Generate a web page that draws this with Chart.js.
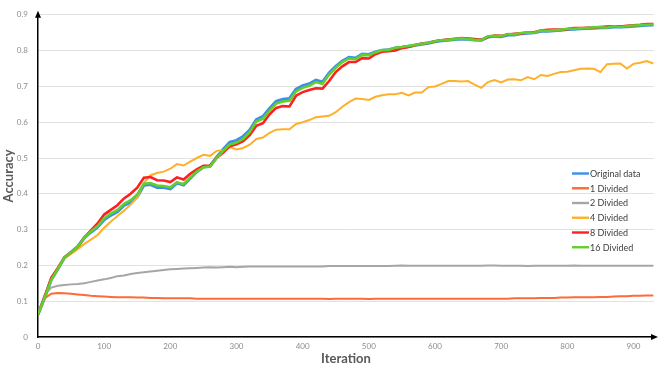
<!DOCTYPE html>
<html>
<head>
<meta charset="utf-8">
<script src="https://cdn.jsdelivr.net/npm/chart.js@4.4.1/dist/chart.umd.min.js"></script>
<style>
  html, body { margin: 0; padding: 0; background: #fff; }
  #wrap { width: 664px; height: 369px; }
</style>
</head>
<body>
<div id="wrap"><canvas id="acc-chart"></canvas></div>
<script>
// Accuracy vs iteration data

const iterations = [
    0, 10, 20, 30, 40, 50, 60, 70, 80, 90,
    100, 110, 120, 130, 140, 150, 160, 170, 180, 190,
    200, 210, 220, 230, 240, 250, 260, 270, 280, 290,
    300, 310, 320, 330, 340, 350, 360, 370, 380, 390,
    400, 410, 420, 430, 440, 450, 460, 470, 480, 490,
    500, 510, 520, 530, 540, 550, 560, 570, 580, 590,
    600, 610, 620, 630, 640, 650, 660, 670, 680, 690,
    700, 710, 720, 730, 740, 750, 760, 770, 780, 790,
    800, 810, 820, 830, 840, 850, 860, 870, 880, 890,
    900, 910, 920, 930
];

const originalData = [
    0.063, 0.110, 0.160, 0.190, 0.222, 0.237, 0.252, 0.277, 0.293, 0.307,
    0.328, 0.340, 0.350, 0.368, 0.377, 0.392, 0.424, 0.426, 0.418, 0.418,
    0.414, 0.430, 0.425, 0.443, 0.462, 0.475, 0.477, 0.502, 0.524, 0.544,
    0.549, 0.560, 0.578, 0.607, 0.616, 0.638, 0.658, 0.664, 0.666, 0.692,
    0.702, 0.707, 0.717, 0.712, 0.737, 0.756, 0.771, 0.781, 0.779, 0.790,
    0.789, 0.796, 0.801, 0.802, 0.807, 0.809, 0.812, 0.815, 0.818, 0.821,
    0.825, 0.828, 0.829, 0.831, 0.833, 0.832, 0.830, 0.829, 0.838, 0.840,
    0.839, 0.844, 0.844, 0.847, 0.849, 0.850, 0.854, 0.854, 0.856, 0.857,
    0.859, 0.860, 0.861, 0.862, 0.863, 0.864, 0.864, 0.866, 0.866, 0.867,
    0.868, 0.870, 0.871, 0.872
];

const divided1 = [
    0.063, 0.108, 0.121, 0.123, 0.122, 0.121, 0.119, 0.117, 0.115, 0.114,
    0.113, 0.112, 0.111, 0.111, 0.111, 0.110, 0.110, 0.109, 0.109, 0.108,
    0.108, 0.108, 0.108, 0.108, 0.107, 0.107, 0.107, 0.107, 0.107, 0.107,
    0.107, 0.107, 0.107, 0.107, 0.107, 0.107, 0.107, 0.107, 0.107, 0.107,
    0.107, 0.107, 0.107, 0.107, 0.106, 0.107, 0.107, 0.107, 0.107, 0.107,
    0.106, 0.107, 0.107, 0.107, 0.107, 0.107, 0.107, 0.107, 0.107, 0.107,
    0.107, 0.107, 0.107, 0.107, 0.107, 0.107, 0.107, 0.107, 0.107, 0.107,
    0.107, 0.107, 0.108, 0.108, 0.108, 0.108, 0.109, 0.109, 0.109, 0.110,
    0.110, 0.111, 0.111, 0.111, 0.111, 0.112, 0.112, 0.113, 0.114, 0.114,
    0.115, 0.115, 0.116, 0.116
];

const divided2 = [
    0.063, 0.118, 0.138, 0.143, 0.145, 0.147, 0.148, 0.150, 0.154, 0.158,
    0.161, 0.165, 0.170, 0.172, 0.176, 0.179, 0.181, 0.183, 0.185, 0.187,
    0.189, 0.190, 0.191, 0.192, 0.193, 0.194, 0.195, 0.194, 0.195, 0.196,
    0.195, 0.196, 0.197, 0.197, 0.197, 0.197, 0.197, 0.197, 0.197, 0.197,
    0.197, 0.197, 0.197, 0.197, 0.198, 0.198, 0.198, 0.198, 0.198, 0.198,
    0.198, 0.198, 0.198, 0.198, 0.199, 0.200, 0.199, 0.199, 0.199, 0.199,
    0.199, 0.199, 0.199, 0.199, 0.199, 0.199, 0.199, 0.199, 0.200, 0.200,
    0.199, 0.199, 0.199, 0.199, 0.198, 0.199, 0.199, 0.199, 0.199, 0.199,
    0.199, 0.200, 0.199, 0.199, 0.199, 0.199, 0.199, 0.199, 0.199, 0.199,
    0.199, 0.199, 0.199, 0.199
];

const divided4 = [
    0.063, 0.110, 0.165, 0.195, 0.220, 0.232, 0.245, 0.260, 0.272, 0.285,
    0.305, 0.322, 0.338, 0.353, 0.370, 0.390, 0.430, 0.452, 0.458, 0.462,
    0.470, 0.483, 0.479, 0.490, 0.500, 0.509, 0.506, 0.520, 0.522, 0.530,
    0.524, 0.528, 0.537, 0.553, 0.557, 0.570, 0.579, 0.580, 0.580, 0.595,
    0.600, 0.606, 0.614, 0.616, 0.618, 0.628, 0.643, 0.656, 0.666, 0.665,
    0.662, 0.671, 0.675, 0.678, 0.678, 0.682, 0.675, 0.683, 0.683, 0.698,
    0.700, 0.707, 0.715, 0.715, 0.714, 0.715, 0.705, 0.696, 0.712, 0.718,
    0.711, 0.719, 0.720, 0.717, 0.726, 0.720, 0.732, 0.729, 0.735, 0.740,
    0.741, 0.745, 0.749, 0.750, 0.749, 0.740, 0.762, 0.763, 0.764, 0.750,
    0.763, 0.766, 0.771, 0.764
];

const divided8 = [
    0.063, 0.112, 0.165, 0.192, 0.222, 0.237, 0.252, 0.278, 0.298, 0.317,
    0.342, 0.355, 0.368, 0.387, 0.400, 0.417, 0.445, 0.447, 0.438, 0.437,
    0.433, 0.446, 0.440, 0.456, 0.468, 0.478, 0.479, 0.500, 0.515, 0.533,
    0.538, 0.547, 0.564, 0.590, 0.597, 0.622, 0.640, 0.645, 0.644, 0.674,
    0.684, 0.690, 0.695, 0.694, 0.715, 0.740, 0.756, 0.768, 0.768, 0.779,
    0.778, 0.790, 0.797, 0.798, 0.800, 0.807, 0.810, 0.815, 0.820, 0.822,
    0.826, 0.829, 0.831, 0.833, 0.835, 0.834, 0.832, 0.830, 0.838, 0.842,
    0.841, 0.845, 0.847, 0.848, 0.851, 0.851, 0.856, 0.858, 0.859, 0.858,
    0.860, 0.863, 0.863, 0.864, 0.864, 0.866, 0.867, 0.868, 0.867, 0.869,
    0.871, 0.872, 0.874, 0.874
];

const divided16 = [
    0.063, 0.110, 0.160, 0.190, 0.222, 0.237, 0.252, 0.277, 0.295, 0.310,
    0.332, 0.345, 0.355, 0.372, 0.382, 0.398, 0.428, 0.430, 0.423, 0.422,
    0.418, 0.432, 0.427, 0.445, 0.462, 0.474, 0.476, 0.500, 0.520, 0.538,
    0.543, 0.553, 0.572, 0.602, 0.610, 0.632, 0.652, 0.658, 0.660, 0.686,
    0.696, 0.702, 0.712, 0.707, 0.733, 0.752, 0.768, 0.778, 0.776, 0.788,
    0.787, 0.795, 0.801, 0.802, 0.808, 0.810, 0.813, 0.816, 0.819, 0.822,
    0.826, 0.829, 0.830, 0.832, 0.834, 0.832, 0.830, 0.829, 0.840, 0.841,
    0.840, 0.846, 0.845, 0.849, 0.851, 0.850, 0.856, 0.855, 0.857, 0.858,
    0.861, 0.861, 0.862, 0.863, 0.865, 0.866, 0.864, 0.868, 0.866, 0.868,
    0.870, 0.871, 0.872, 0.873
];

const seriesNames = ['Original data', '1 Divided', '2 Divided', '4 Divided', '8 Divided', '16 Divided'];
const seriesValues = [originalData, divided1, divided2, divided4, divided8, divided16];
const seriesColors = ['#3d8fe8', '#ff6a35', '#a6a6a6', '#ffb02a', '#ff1f1f', '#62cf2e'];
const seriesWidths = [3.2, 2, 2, 2, 2.6, 2.6];

const yTicks = [0, 0.1, 0.2, 0.3, 0.4, 0.5, 0.6, 0.7, 0.8, 0.9];
const xTicks = [0, 100, 200, 300, 400, 500, 600, 700, 800, 900];

const FONT = 'Lato, "Open Sans", "DejaVu Sans", sans-serif';

// arrows on the axes + legend drawn inside the plot
const axisDecor = {
    id: 'axisDecor',
    afterDraw(chart) {
        const ctx = chart.ctx;
        const area = chart.chartArea;
        ctx.save();
        ctx.fillStyle = '#000';
        // y axis arrow
        ctx.beginPath();
        ctx.moveTo(area.left, area.top - 4);
        ctx.lineTo(area.left - 3, area.top + 3);
        ctx.lineTo(area.left + 3, area.top + 3);
        ctx.closePath();
        ctx.fill();
        // x axis arrow
        ctx.beginPath();
        ctx.moveTo(area.right + 4, area.bottom);
        ctx.lineTo(area.right - 3, area.bottom - 3);
        ctx.lineTo(area.right - 3, area.bottom + 3);
        ctx.closePath();
        ctx.fill();

        // legend
        const lx = 572, ly = 173.5, step = 14.75;
        ctx.font = '9px ' + FONT;
        ctx.textBaseline = 'middle';
        ctx.textAlign = 'left';
        seriesNames.forEach((name, i) => {
            const y = ly + i * step;
            ctx.strokeStyle = seriesColors[i];
            ctx.lineWidth = 2.4;
            ctx.beginPath();
            ctx.moveTo(lx, y);
            ctx.lineTo(lx + 17, y);
            ctx.stroke();
            ctx.fillStyle = '#404040';
            ctx.fillText(name, lx + 18, y + 0.5);
        });
        ctx.restore();
    }
};

const datasets = seriesNames.map((name, i) => ({
    label: name,
    data: iterations.map((it, k) => ({ x: it, y: seriesValues[i][k] })),
    borderColor: seriesColors[i],
    backgroundColor: seriesColors[i],
    borderWidth: seriesWidths[i],
    pointRadius: 0,
    tension: 0,
    fill: false,
    order: seriesNames.length - 1 - i
}));

const ctx = document.getElementById('acc-chart').getContext('2d');
ctx.canvas.width = 664;
ctx.canvas.height = 369;

new Chart(ctx, {
    type: 'line',
    data: { datasets: datasets },
    options: {
        responsive: false,
        maintainAspectRatio: false,
        animation: false,
        layout: {
            padding: { top: 13, right: 10, left: 0, bottom: 0 }
        },
        scales: {
            x: {
                type: 'linear',
                min: 0,
                max: 931,
                afterFit: (scale) => { scale.height = 32; },
                afterBuildTicks: (scale) => { scale.ticks = xTicks.map(v => ({ value: v })); },
                grid: { display: false, drawTicks: false },
                border: { color: '#000', width: 1.5 },
                ticks: {
                    padding: 5,
                    color: '#8c8c8c',
                    font: { family: FONT, size: 8 }
                },
                title: {
                    display: true,
                    text: 'Iteration',
                    color: '#595959',
                    padding: { top: 0, bottom: 2 },
                    font: { family: FONT, size: 13, weight: 'bold' }
                }
            },
            y: {
                min: 0,
                max: 0.9,
                afterFit: (scale) => { scale.width = 38; },
                afterBuildTicks: (scale) => { scale.ticks = yTicks.map(v => ({ value: v })); },
                grid: { color: '#e2e2e2', lineWidth: 1, drawTicks: false },
                border: { color: '#000', width: 1.5 },
                ticks: {
                    padding: 10,
                    color: '#8c8c8c',
                    font: { family: FONT, size: 8 },
                    callback: (v) => String(Math.round(v * 10) / 10)
                },
                title: {
                    display: true,
                    text: 'Accuracy',
                    color: '#595959',
                    padding: { top: 1, bottom: 0 },
                    font: { family: FONT, size: 13, weight: 'bold' }
                }
            }
        },
        plugins: {
            legend: { display: false },
            tooltip: { enabled: false }
        }
    },
    plugins: [axisDecor]
});
</script>
</body>
</html>
